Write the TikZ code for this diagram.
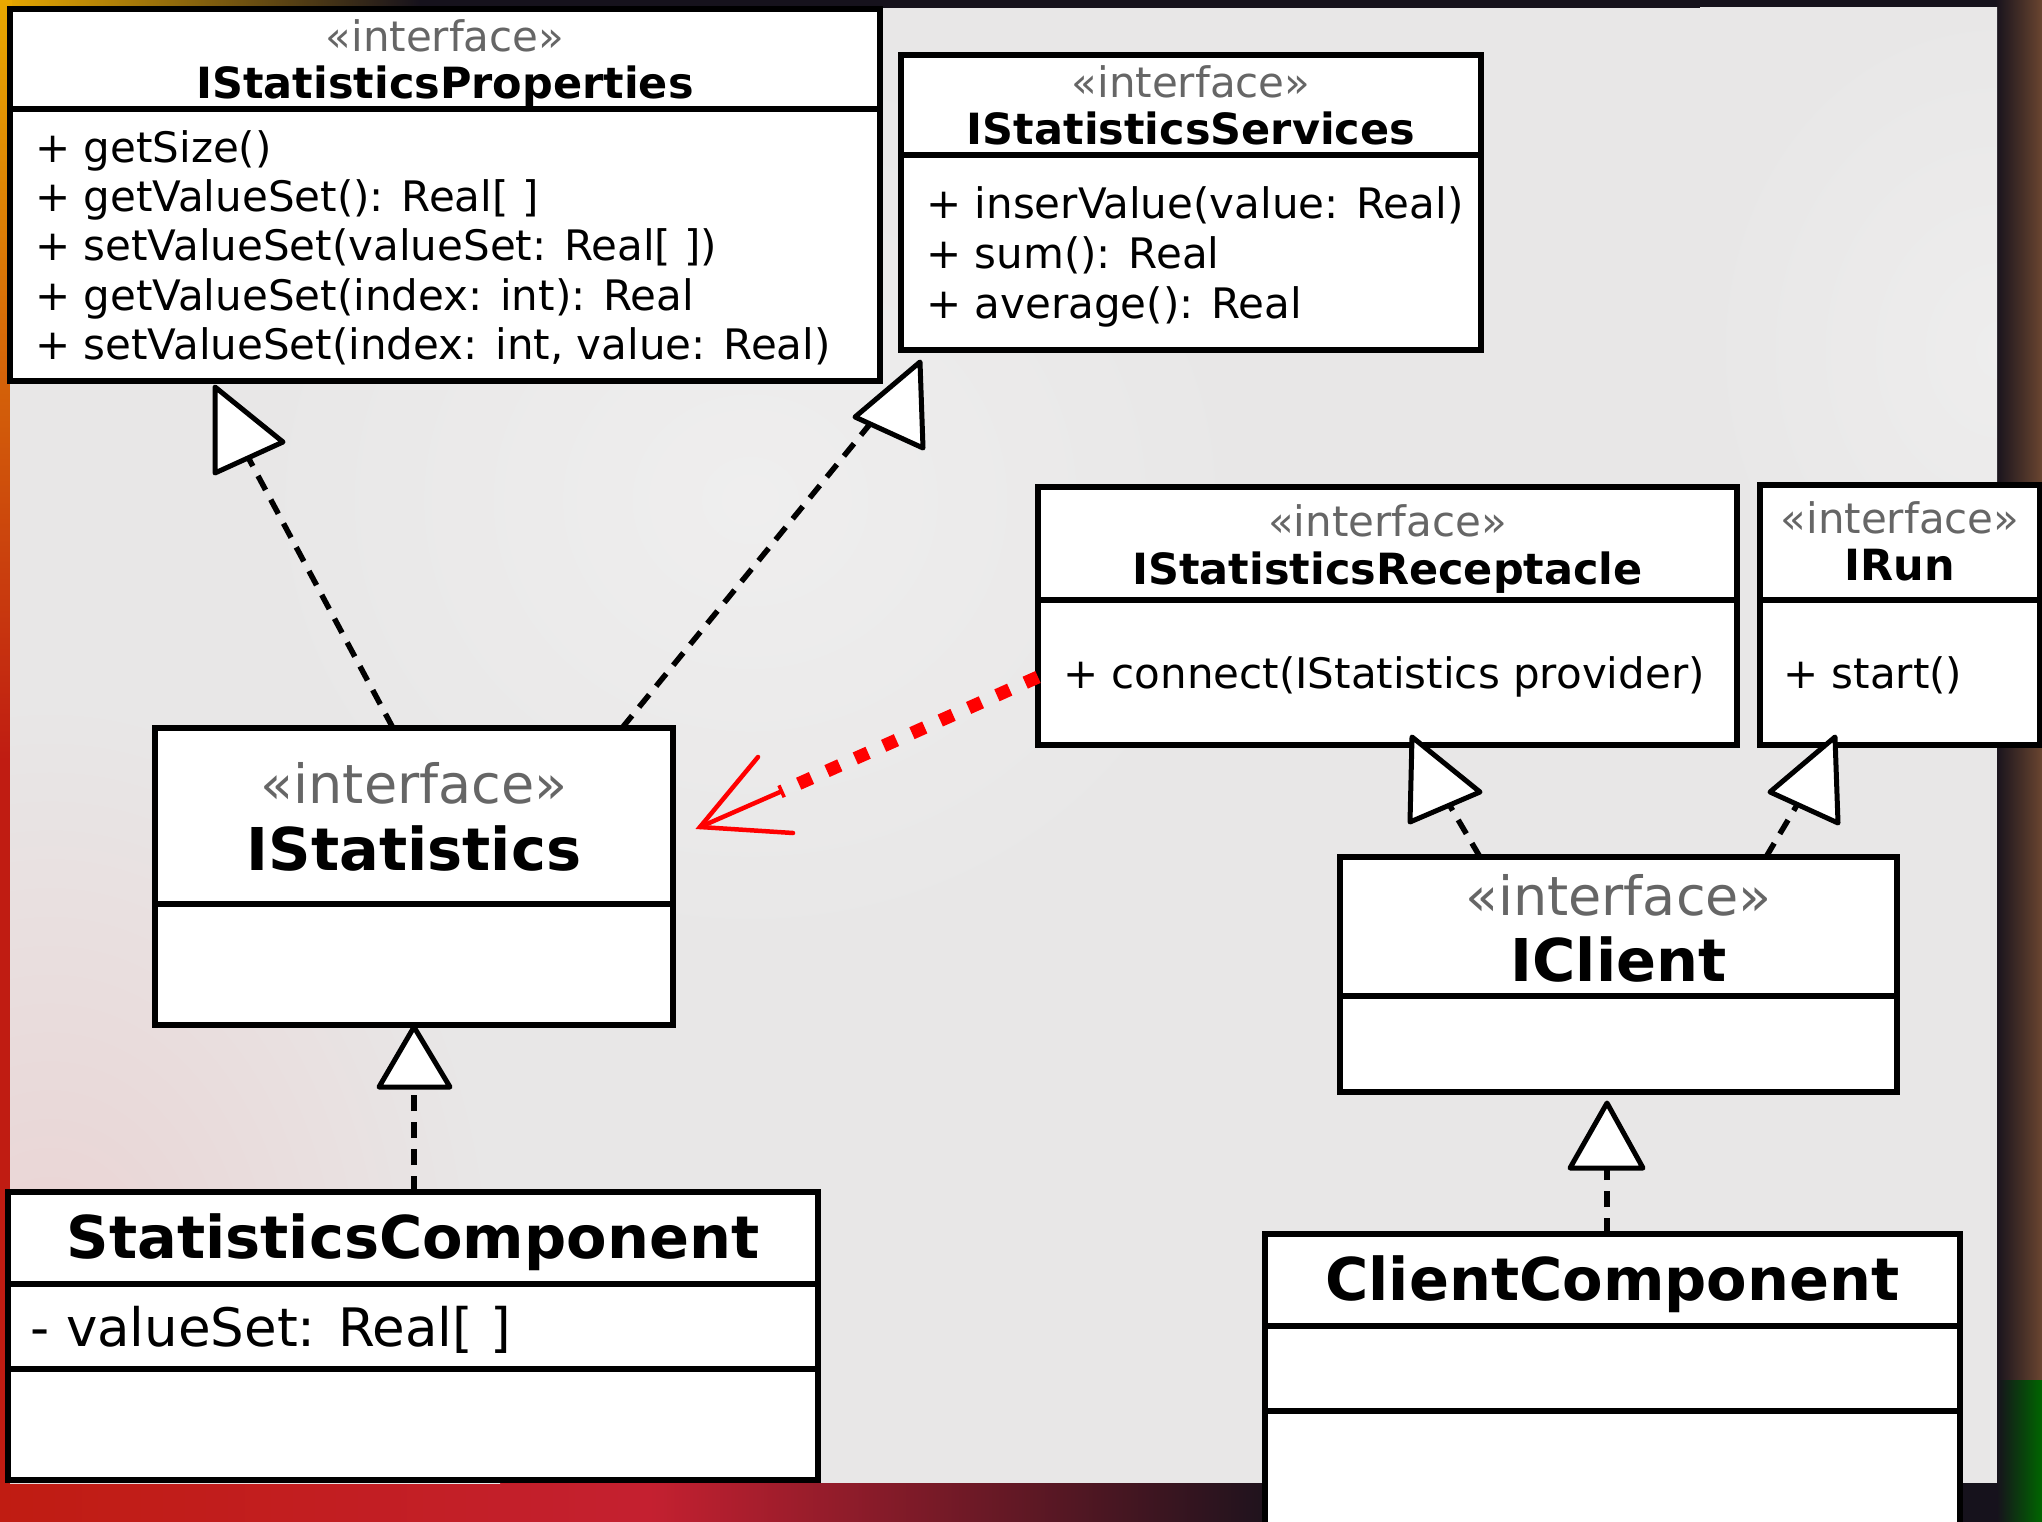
\documentclass[tikz,border=0pt]{standalone}
\usepackage{fontspec}
\setmainfont{DejaVu Sans}
\usetikzlibrary{calc}
\definecolor{pagegray}{HTML}{E8E7E7}
\definecolor{stereo}{HTML}{666666}
\definecolor{frameDark}{HTML}{16121C}
\definecolor{frameGold}{HTML}{E8A800}
\definecolor{frameRed}{HTML}{C01C12}
\definecolor{frameBrown}{HTML}{6A4530}
\definecolor{frameCrimson}{HTML}{C42030}
\begin{document}
\begin{tikzpicture}[x=1pt,y=-1pt,
  umlbox/.style={draw=black, fill=white, line width=5.5pt, rectangle, inner sep=0pt, outer sep=0pt, anchor=north west},
  sepline/.style={line width=5.5pt, black},
  stereotype/.style={text=stereo, font=\fontsize{42}{50}\selectfont, inner sep=0pt, anchor=base},
  titletxt/.style={font=\fontsize{43}{50}\selectfont\bfseries, inner sep=0pt, anchor=base},
  bigtitle/.style={font=\fontsize{59}{70}\selectfont\bfseries, inner sep=0pt, anchor=base},
  member/.style={font=\fontsize{42}{50}\selectfont, inner sep=0pt, anchor=base west},
  realize/.style={line width=5.5pt, dash pattern=on 16pt off 11pt},
  tri/.style={draw=black, fill=white, line width=5pt, line join=round},
  reddots/.style={draw=red, line width=13pt, dash pattern=on 14pt off 17pt},
  redthin/.style={draw=red, line width=4.5pt, line cap=round},
]
\useasboundingbox (0,0) rectangle (2042,1522);
% ---------- background frame ----------
\fill[frameDark] (0,0) rectangle (2042,1522);
\shade[left color=frameGold, right color=frameDark] (0,0) rectangle (420,10);
\shade[top color=frameGold, bottom color=frameRed] (0,0) rectangle (12,760);
\fill[frameRed] (0,760) rectangle (12,1522);
\shade[left color=frameDark, right color=frameBrown] (1995,0) rectangle (2042,1400);
\shade[left color=frameRed, right color=frameDark, middle color=frameCrimson] (0,1483) rectangle (1300,1522);
\shade[left color=frameDark, right color=green!40!black] (1997,1380) rectangle (2042,1522);
% ---------- page ----------
\fill[pagegray] (10,8) rectangle (1997,1483);
\begin{scope}
  \clip (10,8) rectangle (1997,1483);
  \shade[inner color=red!9!pagegray, outer color=pagegray] (-400,700) rectangle (500,1900);
  \shade[inner color=white!30!pagegray, outer color=pagegray] (250,50) rectangle (1250,950);
  \shade[inner color=white!25!pagegray, outer color=pagegray] (1700,0) rectangle (2300,700);
\end{scope}

% ---------- boxes ----------
% IStatisticsProperties
\node[umlbox, minimum width=870pt, minimum height=372pt] (props) at (10,9) {};
\draw[sepline] ($(props.north west)+(0,100)$) -- ($(props.north east)+(0,100)$);
\node[stereotype] (propsS) at ($(props.north)+(0,43)$) {«interface»};
\node[titletxt] (propsT) at ($(props.north)+(0,90)$) {IStatisticsProperties};
\node[member] (propsM1) at ($(props.north west)+(25,154)$) {+ getSize()};
\node[member] (propsM2) at ($(props.north west)+(25,203)$) {+ getValueSet(): Real[ ]};
\node[member] (propsM3) at ($(props.north west)+(25,252)$) {+ setValueSet(valueSet: Real[ ])};
\node[member] (propsM4) at ($(props.north west)+(25,301)$) {+ getValueSet(index: int): Real};
\node[member] (propsM5) at ($(props.north west)+(25,350)$) {+ setValueSet(index: int, value: Real)};

% IStatisticsServices
\node[umlbox, minimum width=580pt, minimum height=295pt] (serv) at (901,55) {};
\draw[sepline] ($(serv.north west)+(0,100)$) -- ($(serv.north east)+(0,100)$);
\node[stereotype] (servS) at ($(serv.north)+(0,43)$) {«interface»};
\node[titletxt] (servT) at ($(serv.north)+(0,90)$) {IStatisticsServices};
\node[member] (servM1) at ($(serv.north west)+(25,164)$) {+ inserValue(value: Real)};
\node[member] (servM2) at ($(serv.north west)+(25,214)$) {+ sum(): Real};
\node[member] (servM3) at ($(serv.north west)+(25,263)$) {+ average(): Real};

% IStatisticsReceptacle
\node[umlbox, minimum width=699pt, minimum height=258pt] (recept) at (1038,487) {};
\draw[sepline] ($(recept.north west)+(0,113)$) -- ($(recept.north east)+(0,113)$);
\node[stereotype] (receptS) at ($(recept.north)+(0,49)$) {«interface»};
\node[titletxt] (receptT) at ($(recept.north)+(0,97)$) {IStatisticsReceptacle};
\node[member] (receptM1) at ($(recept.north west)+(25,201)$) {+ connect(IStatistics provider)};

% IRun
\node[umlbox, minimum width=280pt, minimum height=260pt] (irun) at (1760,485) {};
\draw[sepline] ($(irun.north west)+(0,115)$) -- ($(irun.north east)+(0,115)$);
\node[stereotype] (irunS) at ($(irun.north)+(0,48)$) {«interface»};
\node[titletxt] (irunT) at ($(irun.north)+(0,95)$) {IRun};
\node[member] (irunM1) at ($(irun.north west)+(23,203)$) {+ start()};

% IStatistics
\node[umlbox, minimum width=518pt, minimum height=297pt] (istat) at (155,728) {};
\draw[sepline] ($(istat.north west)+(0,176)$) -- ($(istat.north east)+(0,176)$);
\node[stereotype, font=\fontsize{54}{64}\selectfont] (istatS) at ($(istat.north)+(0,75)$) {«interface»};
\node[bigtitle] (istatT) at ($(istat.north)+(0,142)$) {IStatistics};

% IClient
\node[umlbox, minimum width=557pt, minimum height=235pt] (iclient) at (1340,857) {};
\draw[sepline] ($(iclient.north west)+(0,139)$) -- ($(iclient.north east)+(0,139)$);
\node[stereotype, font=\fontsize{54}{64}\selectfont] (iclientS) at ($(iclient.north)+(0,58)$) {«interface»};
\node[bigtitle] (iclientT) at ($(iclient.north)+(0,124)$) {IClient};

% StatisticsComponent
\node[umlbox, minimum width=810pt, minimum height=288pt] (statcomp) at (8,1192) {};
\draw[sepline] ($(statcomp.north west)+(0,92)$) -- ($(statcomp.north east)+(0,92)$);
\draw[sepline] ($(statcomp.north west)+(0,177)$) -- ($(statcomp.north east)+(0,177)$);
\node[bigtitle] (statcompT) at ($(statcomp.north)+(0,66)$) {StatisticsComponent};
\node[member, font=\fontsize{53}{62}\selectfont] (statcompM1) at ($(statcomp.north west)+(22,154)$) {- valueSet: Real[ ]};

% ClientComponent
\node[umlbox, minimum width=695pt, minimum height=310pt] (clientcomp) at (1265,1234) {};
\draw[sepline] ($(clientcomp.north west)+(0,92)$) -- ($(clientcomp.north east)+(0,92)$);
\draw[sepline] ($(clientcomp.north west)+(0,177)$) -- ($(clientcomp.north east)+(0,177)$);
\node[bigtitle] (clientcompT) at ($(clientcomp.north)+(0,66)$) {ClientComponent};

% ---------- connectors ----------
\coordinate (e1) at (249,459);
\coordinate (e2) at (870,424);
\coordinate (e3) at (1450,806);
\coordinate (e4) at (1797,805);
\coordinate (e5) at (414,1087);
\coordinate (e6) at (1607,1168);
\draw[realize] ($(istat.north west)+(238,0)$) -- (e1);
\draw[realize] ($(istat.north west)+(467,0)$) -- (e2);
\draw[realize] ($(iclient.north west)+(140,0)$) -- (e3);
\draw[realize] ($(iclient.north west)+(426,0)$) -- (e4);
\draw[realize] ($(statcomp.north west)+(406,0)$) -- (e5);
\draw[realize] ($(clientcomp.north west)+(342,0)$) -- (e6);

% realization triangles
\draw[tri] (215,387) -- (283,442) -- (215,473) -- cycle;
\draw[tri] (920,362) -- (855,417) -- (923,448) -- cycle;
\draw[tri] (1412,737) -- (1480,792) -- (1410,822) -- cycle;
\draw[tri] (1835,737) -- (1770,792) -- (1838,823) -- cycle;
\draw[tri] (414,1027) -- (379,1087) -- (450,1087) -- cycle;
\draw[tri] (1607,1103) -- (1570,1168) -- (1643,1168) -- cycle;

% red dependency
\coordinate (r1) at (780,792);
\coordinate (rtip) at (700,827);
\draw[reddots] ($(recept.north west)+(0,190)$) -- (r1);
\draw[redthin] (r1) -- (rtip);
\draw[redthin] (758,757) -- (rtip) -- (793,833);
\end{tikzpicture}
\end{document}
